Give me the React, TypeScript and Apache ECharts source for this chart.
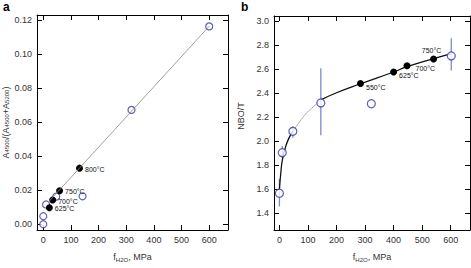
import React, { useEffect, useRef } from "react";
import * as echarts from "echarts";

// Panel a
const aOpenPoints: [number, number][] = [
  [0, 0.0], [0, 0.0047], [10, 0.0116], [47, 0.0162], [142, 0.0164], [319, 0.0671], [600, 0.1161],
];
const aFilledPoints: [number, number][] = [
  [22, 0.0097], [34, 0.0142], [59, 0.0196], [131, 0.0329],
];
const aTemps = ["625°C", "700°C", "750°C", "800°C"];
const aFitLine: [number, number][] = [[22, 0.0136], [600, 0.1162]];
const aYTicks = [0, 0.02, 0.04, 0.06, 0.08, 0.1, 0.12];
const xTicks = [0, 100, 200, 300, 400, 500, 600];

// Panel b
const bOpenPoints: [number, number][] = [
  [0, 1.567], [10, 1.905], [47, 2.083], [145, 2.32], [322, 2.313], [602, 2.712],
];
const bErrors: [number, number, number][] = [
  [0, 1.456, 1.686], [10, 1.86, 1.96], [47, 2.03, 2.125], [145, 2.05, 2.61], [602, 2.59, 2.86],
];
const bFilledPoints: [number, number][] = [
  [284, 2.482], [400, 2.578], [447, 2.63], [540, 2.686],
];
const bTemps = ["550°C", "625°C", "700°C", "750°C"];
const bCurveLow: [number, number][] = [
  [0, 1.6], [5, 1.74], [10, 1.84], [20, 1.94], [32, 2.02], [47, 2.083],
];
const bCurveMid: [number, number][] = [
  [47, 2.083], [70, 2.16], [95, 2.235], [120, 2.29], [145, 2.345],
];
const bCurveHigh: [number, number][] = [
  [145, 2.345], [200, 2.405], [284, 2.48], [400, 2.578], [447, 2.622], [540, 2.69], [600, 2.73],
];
const bYTicks = [1.4, 1.6, 1.8, 2.0, 2.2, 2.4, 2.6, 2.8, 3.0];

const FONT = "Liberation Sans";
const BLUE = "#3838a8";
const ERR = "#8088d0";

function axisBase(extra: any) {
  return {
    axisLine: { show: true, onZero: false, lineStyle: { color: "#000", width: 1 } },
    axisTick: { show: true, inside: true, length: 5, lineStyle: { color: "#000", width: 1 } },
    splitLine: { show: false },
    ...extra,
  };
}

export default function App() {
  const ref = useRef<HTMLDivElement>(null);
  useEffect(() => {
    if (!ref.current) return;
    const chart = echarts.init(ref.current, null, { renderer: "svg" });
    const tickLabel = { color: "#333", fontSize: 9, fontFamily: FONT };
    const xName = {
      name: "{f|f}{s|H2O}{n|, MPa}",
      nameLocation: "middle",
      nameGap: 21,
      nameTextStyle: {
        rich: {
          f: { fontSize: 9, fontFamily: FONT, color: "#333", lineHeight: 12 },
          s: { fontSize: 6, fontFamily: FONT, color: "#333", verticalAlign: "bottom", lineHeight: 10, padding: [3, 0, 0, 0] },
          n: { fontSize: 9, fontFamily: FONT, color: "#333", lineHeight: 12 },
        },
      },
    };
    const xAx = (grid: number, min: number, max: number, top: boolean) =>
      axisBase({
        type: "value",
        gridIndex: grid,
        position: top ? "top" : "bottom",
        min,
        max,
        axisTick: { show: true, inside: true, length: 5, customValues: xTicks, lineStyle: { color: "#000", width: 1 } },
        axisLabel: top
          ? { show: false }
          : { show: true, customValues: xTicks, margin: 5, ...tickLabel },
        ...(top ? {} : xName),
      });
    const yAx = (grid: number, min: number, max: number, ticks: number[], digits: number, right: boolean, nameObj: any) =>
      axisBase({
        type: "value",
        gridIndex: grid,
        position: right ? "right" : "left",
        min,
        max,
        axisTick: { show: true, inside: true, length: 5, customValues: ticks, lineStyle: { color: "#000", width: 1 } },
        axisLabel: right
          ? { show: false }
          : { show: true, customValues: ticks, margin: 5, formatter: (v: number) => v.toFixed(digits), ...tickLabel },
        ...(right ? {} : nameObj),
      });

    const tempLabel = (offset: [number, number], position: string = "right") => ({
      show: true,
      position,
      distance: 2,
      offset,
      fontSize: 7,
      fontFamily: FONT,
      color: "#111",
    });

    chart.setOption({
      animation: false,
      grid: [
        { left: 36, top: 15, width: 192, height: 225 },
        { left: 274, top: 16, width: 196, height: 225 },
      ],
      xAxis: [
        xAx(0, -22.7, 668, false),
        xAx(0, -22.7, 668, true),
        xAx(1, -19, 667.6, false),
        xAx(1, -19, 667.6, true),
      ],
      yAxis: [
        yAx(0, -0.0034, 0.1228, aYTicks, 2, false, {
          name: "A{s|4500}/(A{s|4500}+A{s|5200})",
          nameLocation: "middle",
          nameGap: 27,
          nameTextStyle: {
            fontSize: 9,
            fontFamily: FONT,
            color: "#333",
            rich: {
              s: { fontSize: 6, fontFamily: FONT, color: "#333", verticalAlign: "bottom", padding: [3, 0, 0, 0] },
            },
          },
        }),
        yAx(0, -0.0034, 0.1228, aYTicks, 2, true, {}),
        yAx(1, 1.26, 3.045, bYTicks, 1, false, {
          name: "NBO/T",
          nameLocation: "middle",
          nameGap: 29,
          nameTextStyle: { fontSize: 9, fontFamily: FONT, color: "#333", padding: [0, 0, 0, 14] },
        }),
        yAx(1, 1.26, 3.045, bYTicks, 1, true, {}),
      ],
      graphic: [
        { type: "text", left: 3, top: 1, style: { text: "a", font: `bold 12px ${FONT}`, fill: "#000" } },
        { type: "text", left: 241, top: 1, style: { text: "b", font: `bold 12px ${FONT}`, fill: "#000" } },
      ],
      series: [
        {
          type: "line",
          xAxisIndex: 0,
          yAxisIndex: 0,
          data: aFitLine,
          symbol: "none",
          lineStyle: { color: "#888", width: 0.8 },
          silent: true,
        },
        {
          type: "scatter",
          xAxisIndex: 0,
          yAxisIndex: 0,
          data: aOpenPoints,
          symbol: "circle",
          symbolSize: 7,
          itemStyle: { color: "#fff", borderColor: BLUE, borderWidth: 1.2 },
        },
        {
          type: "scatter",
          xAxisIndex: 0,
          yAxisIndex: 0,
          data: aFilledPoints.map((p, i) => ({ value: p, name: aTemps[i] })),
          symbol: "circle",
          symbolSize: 7,
          itemStyle: { color: "#000", opacity: 1 },
          label: { ...tempLabel([0, 1]), formatter: (p: any) => p.name },
        },
        // Panel b
        {
          type: "custom",
          xAxisIndex: 2,
          yAxisIndex: 2,
          data: bErrors,
          renderItem: (params: any, api: any) => {
            const x = api.value(0);
            const p1 = api.coord([x, api.value(1)]);
            const p2 = api.coord([x, api.value(2)]);
            return {
              type: "line",
              shape: { x1: p1[0], y1: p1[1], x2: p2[0], y2: p2[1] },
              style: { stroke: ERR, lineWidth: 1.3 },
            };
          },
          silent: true,
          z: 1,
        },
        {
          type: "line",
          xAxisIndex: 2,
          yAxisIndex: 2,
          data: bCurveLow,
          symbol: "none",
          smooth: true,
          lineStyle: { color: "#111", width: 1.3 },
          silent: true,
          z: 2,
        },
        {
          type: "line",
          xAxisIndex: 2,
          yAxisIndex: 2,
          data: bCurveMid,
          symbol: "none",
          smooth: true,
          lineStyle: { color: "#999", width: 0.8 },
          silent: true,
          z: 2,
        },
        {
          type: "line",
          xAxisIndex: 2,
          yAxisIndex: 2,
          data: bCurveHigh,
          symbol: "none",
          smooth: true,
          lineStyle: { color: "#111", width: 1.3 },
          silent: true,
          z: 2,
        },
        {
          type: "scatter",
          xAxisIndex: 2,
          yAxisIndex: 2,
          data: bOpenPoints,
          symbol: "circle",
          symbolSize: 8,
          itemStyle: { color: "#fff", borderColor: BLUE, borderWidth: 1.2 },
          z: 3,
        },
        {
          type: "scatter",
          xAxisIndex: 2,
          yAxisIndex: 2,
          data: bFilledPoints.map((p, i) => ({
            value: p,
            name: bTemps[i],
            label:
              i === 3
                ? { ...tempLabel([-2, 0], "top"), formatter: (q: any) => q.name }
                : i === 2
                ? { ...tempLabel([3, 3]), formatter: (q: any) => q.name }
                : { ...tempLabel([0, 4]), formatter: (q: any) => q.name },
          })),
          symbol: "circle",
          symbolSize: 7,
          itemStyle: { color: "#000", opacity: 1 },
          z: 3,
        },
      ],
    });
    return () => chart.dispose();
  }, []);
  return <div ref={ref} style={{ width: 471, height: 268, position: "absolute", left: 0, top: 0 }} />;
}
